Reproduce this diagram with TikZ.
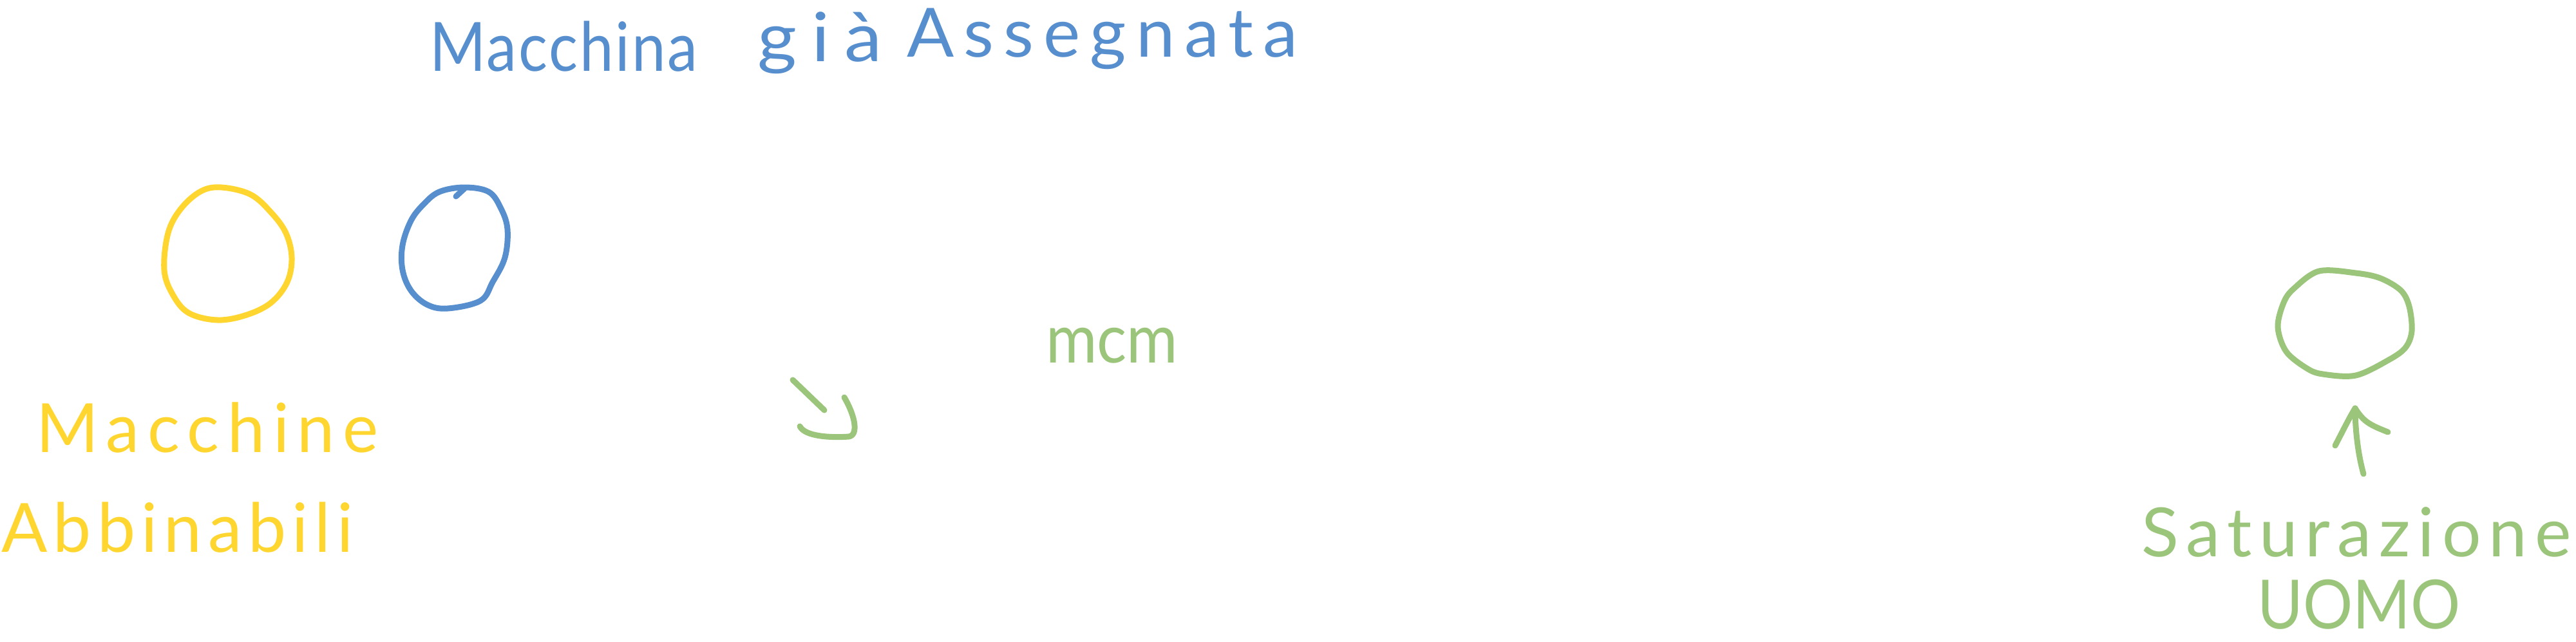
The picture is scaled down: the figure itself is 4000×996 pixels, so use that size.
\documentclass[tikz,border=0pt]{standalone}
\usepackage{fontspec}
\setmainfont{Lato}
\usepackage{graphicx}
\definecolor{hwblue}{RGB}{86,142,206}
\definecolor{hwyellow}{RGB}{255,214,48}
\definecolor{hwgreen}{RGB}{155,197,122}
\newcommand{\fitw}[3]{\resizebox{#1}{\height}{\addfontfeature{LetterSpace=#2}#3}}
\tikzset{
  hwword/.style={inner sep=0pt, outer sep=0pt, anchor=base west, font=\fontsize{30}{36}\selectfont},
  hwstroke/.style={line width=0.09cm, line cap=round, line join=round},
}
\begin{document}
\begin{tikzpicture}[x=0.01cm,y=-0.01cm]
\useasboundingbox (0,0) rectangle (4000,996);
% title (blue)
\node[hwword, text=hwblue] (t1) at (667,110) {\fitw{4.16cm}{3}{Macchina}};
\node[hwword, text=hwblue] (t2) at (1176,95) {\fitw{1.94cm}{20}{già}};
\node[hwword, text=hwblue] (t3) at (1408,88) {\fitw{6.07cm}{14}{Assegnata}};
% yellow circle
\draw[hwstroke, hwyellow] plot[smooth cycle, tension=0.6] coordinates {
 (344,291) (389,302) (421,330) (444,362) (453,400) (446,438) (421,470) (383,489)
 (338,497) (293,486) (268,457) (255,419) (261,362) (281,324) (312,297)};
% blue circle
\draw[hwstroke, hwblue] plot[smooth cycle, tension=0.6] coordinates {
 (721,291) (759,298) (778,324) (788,356) (784,400) (765,438) (746,467) (695,479)
 (663,473) (638,451) (625,419) (625,381) (638,343) (657,318) (682,298)};
\draw[hwstroke, hwblue] (708,305) -- (721,293);
% yellow labels
\node[hwword, text=hwyellow] (y1) at (57,702) {\fitw{5.30cm}{12}{Macchine}};
\node[hwword, text=hwyellow] (y2) at (2,857) {\fitw{5.46cm}{9}{Abbinabili}};
% green down arrow and mcm
\coordinate (da1) at (1231,590);
\coordinate (da2) at (1280,637);
\draw[hwstroke, hwgreen] (da1) -- (da2);
\draw[hwstroke, hwgreen] (1242,662) .. controls (1250,678) and (1290,680) .. (1318,678)
  .. controls (1332,676) and (1330,650) .. (1311,617);
\node[hwword, text=hwgreen] (m1) at (1624,563) {\fitw{2.05cm}{0}{mcm}};
% green circle
\draw[hwstroke, hwgreen] plot[smooth cycle, tension=0.55] coordinates {
 (3601,421) (3658,424) (3696,432) (3728,451) (3741,476) (3745,514) (3735,540)
 (3709,559) (3658,583) (3607,581) (3582,572) (3550,546) (3537,508) (3546,470) (3562,448)};
% green up arrow
\coordinate (ua1) at (3670,736);
\coordinate (ua2) at (3657,634);
\draw[hwstroke, hwgreen] (ua1) .. controls (3660,700) and (3657,660) .. (ua2);
\draw[hwstroke, hwgreen] (3626,692) .. controls (3640,665) and (3650,645) .. (ua2)
  .. controls (3670,655) and (3680,660) .. (3708,671);
\node[hwword, text=hwgreen] (s1) at (3325,864) {\fitw{6.67cm}{11}{Saturazione}};
\node[hwword, text=hwgreen] (s2) at (3505,976) {\fitw{3.15cm}{0}{UOMO}};
\end{tikzpicture}
\end{document}
